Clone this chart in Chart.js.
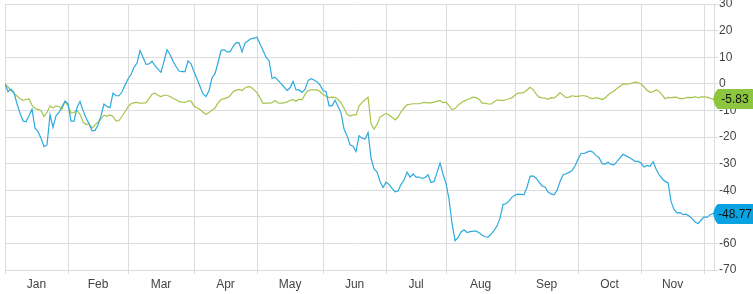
<!DOCTYPE html>
<html>
<head>
<meta charset="utf-8">
<script src="https://cdn.jsdelivr.net/npm/chart.js@4/dist/chart.umd.min.js"></script>
<style>
  html, body { margin: 0; padding: 0; background: #fff; }
  #wrap { width: 753px; height: 294px; position: relative; }
</style>
</head>
<body>
<div id="wrap"><canvas id="chart"></canvas></div>
<script>
// trading-day index where each month starts (Jan .. Dec)
const monthNames = ['Jan', 'Feb', 'Mar', 'Apr', 'May', 'Jun', 'Jul', 'Aug', 'Sep', 'Oct', 'Nov'];
const monthStarts = [0, 21, 41, 63, 84, 106, 127, 147, 170, 191, 212, 233];
const lastDay = 236.3;

// % change, one value per trading day
const blueValues = [
  0, -3, -2, -3.3, -7.5, -11, -14, -14.3, -12, -9.5, -16.7, -18, -20.5, -23.6, -23, -11.6, -16.4, -12, -10.8, -8.5, -6.5,
  -7.5, -14, -14, -9, -6.6, -10, -12.8, -15, -17.7, -17.5, -15.5, -12, -7.6, -8.5, -9, -3.5, -4.5, -4.5, -3, -0.5,
  1.8, 3.5, 6.2, 7.8, 12.5, 10, 7.3, 7.5, 8.5, 6.8, 5.5, 4.3, 8.5, 12.8, 11, 8.5, 6.5, 4.8, 4.6, 4.6, 8.6, 7.5,
  4.5, 1.8, -1, -3.8, -4.8, -2.5, 2.3, 3.8, 8, 12.5, 12.8, 12, 12, 14, 15.5, 15.4, 12, 15.3, 16.2, 16.9, 17.2,
  17.5, 15, 12.5, 10, 8.7, 2, 2.5, 1.3, 0.1, -1.2, -2.6, -1.5, 0.9, -2.3, -2.3, -3.2, -2, 1.2, 1.9, 1.4, 0.7, -0.5,
  -2.5, -3, -8.3, -8.3, -6.2, -8.5, -11, -17, -19.5, -22.9, -23.5, -25.5, -19.5, -20.5, -20.8, -18.3, -28, -32, -33.2, -36.7, -39,
  -37, -37.8, -39.3, -40.6, -40.3, -37.8, -36.2, -33.2, -35.1, -33.9, -35.1, -35.1, -35.5, -35.3, -34.2, -37.1, -36.7, -33.3, -29.8, -34,
  -37.5, -43.5, -52.5, -59, -57.8, -55.7, -54.9, -55.9, -55.6, -55.4, -55.4, -56, -56.8, -57.5, -57.6, -56.5, -55.2, -53.4, -50.5, -45.3, -45.1, -44, -42.6,
  -41.8, -41.5, -41.6, -41.7, -38.8, -34.8, -34.6, -35.5, -37, -38.4, -38.8, -40.7, -41.4, -41.7, -40, -36.7, -34.2, -33.8, -33.3, -32.6, -30.8,
  -28.3, -26.2, -26.2, -25.7, -25.2, -25.7, -27, -27.8, -30, -30.2, -29.5, -30.3, -30.5, -29.2, -27.8, -26.5, -27.1, -27.7, -28.4, -29.2, -29.2,
  -29.8, -31.3, -30.7, -31, -29.3, -32, -34.2, -35.6, -36.7, -37.2, -44.3, -47.3, -48.5, -48.4, -49.2, -49, -49.7, -50.7, -52, -52.5, -51.2,
  -50, -50.2, -49.2, -48.77
];

const greenValues = [
  0, -1.2, -2.5, -3.7, -4.6, -5.6, -6.2, -5.9, -5.7, -8, -9.3, -9.6, -10, -12.3, -10.8, -8.3, -9.1, -8.3, -8.6, -9.6, -6.6,
  -8.3, -11, -10.8, -10, -11.5, -14.3, -15.3, -15, -16.6, -15.5, -14.4, -13.2, -11.8, -12.2, -11.7, -12.3, -14, -13.8, -12.2, -10.5,
  -8.7, -7.5, -7.1, -7, -7.3, -7.3, -7.1, -5.6, -3.9, -3.5, -4.4, -4.8, -4.3, -4.3, -4.8, -5.4, -6, -6.7, -6.9, -7, -6.4, -6.5,
  -8.4, -9, -9.7, -10.7, -11.5, -10.8, -9.9, -9.1, -7.2, -5.9, -5.6, -5.3, -4.5, -3, -2.4, -2.1, -2.5, -1.6, -1.1, -1.2, -2.3,
  -3.4, -5.3, -7.4, -7.3, -7.3, -7.1, -6.3, -7.2, -7.3, -7.2, -6.8, -6.3, -5.9, -6.6, -5.8, -6, -4, -2.6, -2.3, -2.3, -2.3, -2.9,
  -4, -4.7, -5.2, -5, -5.1, -5.9, -7.2, -9.2, -11.5, -12.1, -11.7, -11.7, -8.4, -7, -6, -5, -15, -17, -15.3, -12.5, -11.8,
  -11.1, -11.7, -12.6, -13.6, -12.5, -10.5, -9.1, -7.9, -7.7, -7.5, -7.5, -7.5, -7.2, -7, -7.2, -7.2, -6.9, -6.5, -6.3, -7.1,
  -6.9, -8.2, -9.7, -9.3, -8.1, -7.1, -6.5, -6, -5.5, -5, -5.2, -5.8, -7.3, -7.3, -7.6, -7.6, -6.8, -6, -6.2, -6.2, -6, -5.6, -5.2,
  -4.2, -3.5, -3.5, -3.2, -2.3, -1.3, -2.2, -3.8, -5, -5.3, -5.4, -5.8, -5.2, -5.3, -4.5, -3.3, -4.3, -5.2, -5, -4.5, -4.7,
  -4.7, -4.5, -4.5, -4.7, -5.4, -5.6, -5.2, -5.5, -5.9, -5.3, -4.2, -3.4, -2.7, -1.7, -0.9, 0, -0.1, 0, 0.3, 0.6, 0.4,
  -0.1, -1.2, -2.4, -3.2, -3, -2.3, -2.8, -4.2, -5.6, -5.1, -5.3, -5, -5.1, -5.6, -5.6, -5.2, -5.1, -5.2, -4.8, -5.3, -4.9,
  -4.9, -5, -5.4, -5.83
];

const FONT = '"Liberation Sans", Arial, sans-serif';
const GRID = '#dcdcdc';

// month label sits in the middle of each month span
const monthMids = monthNames.map((m, i) => (monthStarts[i] + monthStarts[i + 1]) / 2);

const lastValueTags = {
  id: 'lastValueTags',
  afterDraw(chart) {
    const { ctx, chartArea } = chart;
    chart.data.datasets.forEach((ds, i) => {
      const meta = chart.getDatasetMeta(i);
      const pt = meta.data[meta.data.length - 1];
      const value = ds.data[ds.data.length - 1].y;
      const x0 = chartArea.right - 1;
      const top = Math.round(pt.y) - 10;
      const bottom = top + 20;
      ctx.save();
      ctx.fillStyle = ds.tagColor;
      ctx.beginPath();
      ctx.moveTo(x0, pt.y);
      ctx.quadraticCurveTo(x0 + 2, top + 2, x0 + 5, top);
      ctx.lineTo(chart.width, top);
      ctx.lineTo(chart.width, bottom);
      ctx.lineTo(x0 + 5, bottom);
      ctx.quadraticCurveTo(x0 + 2, bottom - 2, x0, pt.y);
      ctx.closePath();
      ctx.fill();
      ctx.fillStyle = '#111';
      ctx.font = '12px ' + FONT;
      ctx.textBaseline = 'middle';
      ctx.textAlign = 'center';
      ctx.fillText(value.toFixed(2), (x0 + 4 + chart.width) / 2, top + 10.5);
      ctx.restore();
    });
  }
};

new Chart(document.getElementById('chart'), {
  type: 'line',
  data: {
    datasets: [
      {
        label: 'Blue',
        data: blueValues.map((v, i) => ({ x: i, y: v })),
        borderColor: '#2ea9de',
        borderWidth: 1.2,
        pointRadius: 0,
        tension: 0,
        tagColor: '#0aa3e2'
      },
      {
        label: 'Green',
        data: greenValues.map((v, i) => ({ x: i, y: v })),
        borderColor: '#a6c44c',
        borderWidth: 1.2,
        pointRadius: 0,
        tension: 0,
        tagColor: '#8cc63f'
      }
    ]
  },
  options: {
    responsive: true,
    maintainAspectRatio: false,
    animation: false,
    layout: { padding: { top: 4, left: 5, right: 0, bottom: 0 } },
    plugins: {
      legend: { display: false },
      tooltip: { enabled: false }
    },
    scales: {
      x: {
        type: 'linear',
        min: 0,
        max: lastDay,
        afterBuildTicks(scale) {
          const starts = monthStarts.map((v) => ({ value: v }));
          const mids = monthMids.map((v) => ({ value: v }));
          scale.ticks = starts.concat(mids);
        },
        afterFit(scale) {
          scale.height = 24;
          scale.paddingLeft = 0;
          scale.paddingRight = 0;
        },
        grid: {
          color: (c) => (monthStarts.includes(c.tick && c.tick.value) ? GRID : 'rgba(0,0,0,0)'),
          tickLength: 4
        },
        border: { color: GRID },
        ticks: {
          autoSkip: false,
          maxRotation: 0,
          padding: 3,
          color: '#444',
          font: { family: FONT, size: 12 },
          callback(value) {
            const i = monthMids.indexOf(value);
            return i >= 0 ? monthNames[i] : '';
          }
        }
      },
      y: {
        position: 'right',
        min: -70,
        max: 30,
        afterFit(scale) {
          scale.width = 39;
          scale.paddingTop = 0;
          scale.paddingBottom = 0;
        },
        grid: { color: GRID, tickLength: 4 },
        border: { color: GRID },
        ticks: {
          stepSize: 10,
          padding: 1,
          color: '#444',
          font: { family: FONT, size: 12 }
        }
      }
    }
  },
  plugins: [lastValueTags]
});
</script>
</body>
</html>
